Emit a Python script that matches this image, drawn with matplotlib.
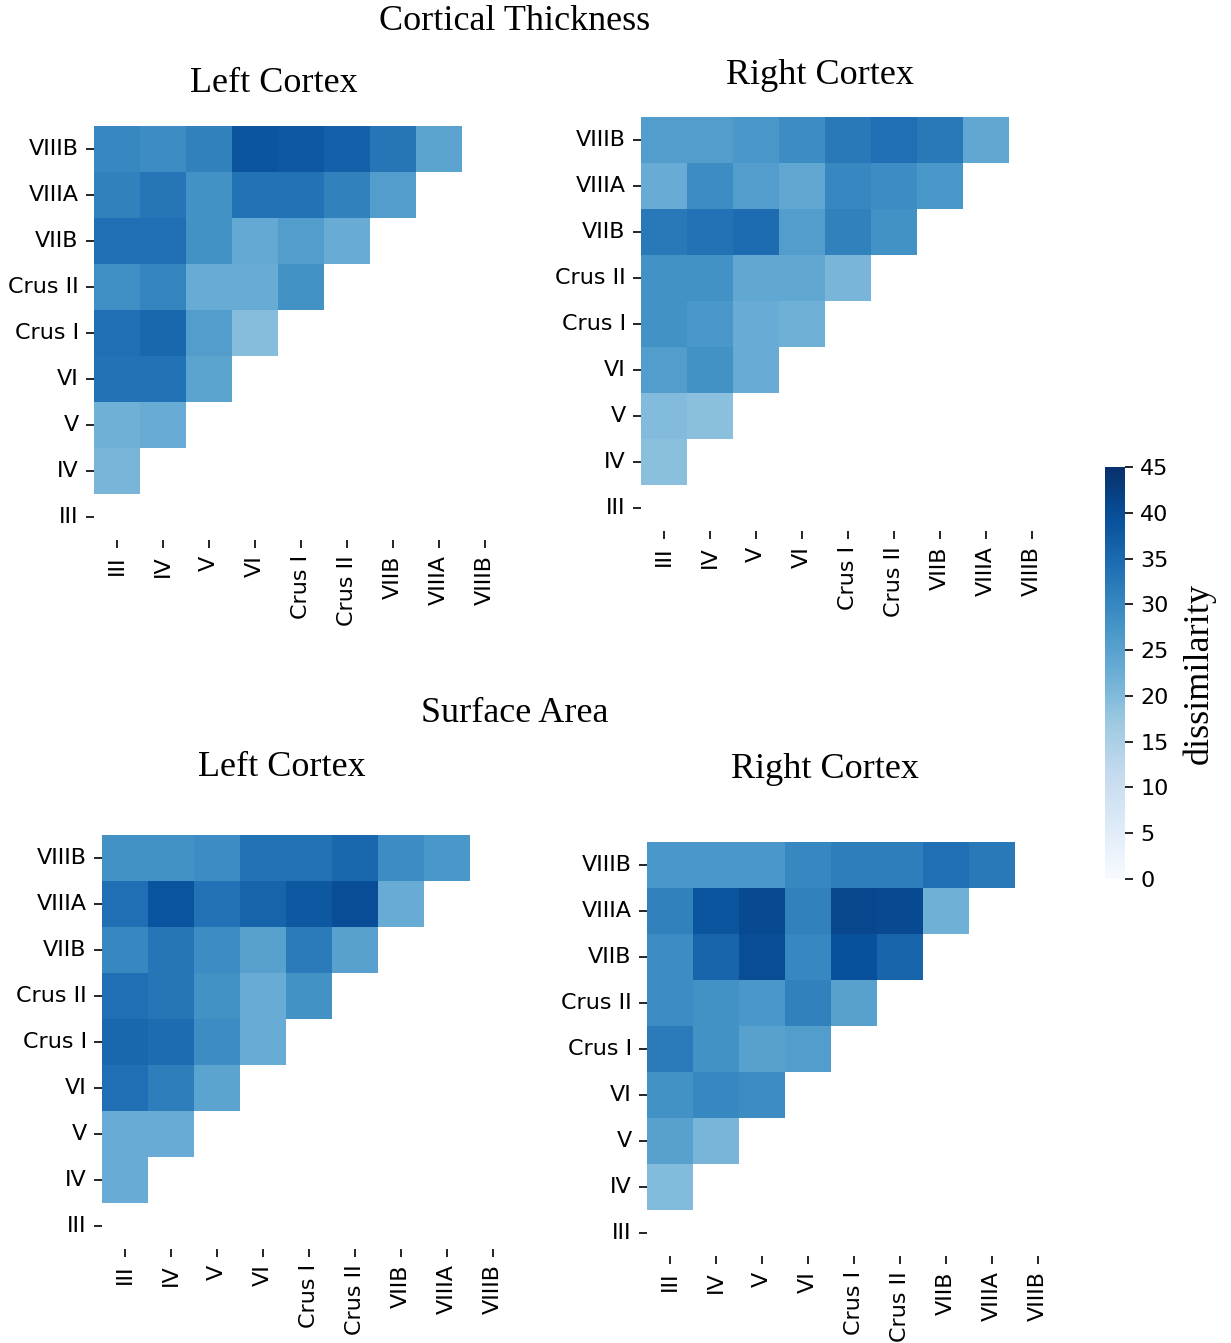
import numpy as np
import matplotlib
matplotlib.use("Agg")
import matplotlib.pyplot as plt
import seaborn as sns

# region labels, bottom-to-top on y / left-to-right on x
regions = ["III", "IV", "V", "VI", "Crus I", "Crus II", "VIIB", "VIIIA", "VIIIB"]

# lower-triangle values, one list per row from IV up to VIIIB
# (each row holds values for the columns III .. the region below it)
ct_left = [
    [21],
    [22, 23],
    [33.5, 33.5, 24.5],
    [34, 35.5, 26, 19.5],
    [28.5, 30.5, 23, 23, 28],
    [34, 34, 28, 23.5, 26, 23],
    [31, 33, 28, 33.5, 33.5, 31, 26],
    [30, 29, 31, 38.5, 38, 36.5, 33, 24.5],
]
ct_right = [
    [19],
    [20, 19],
    [26, 28, 23],
    [28, 27, 23, 22],
    [28, 28, 24, 24, 21],
    [32.5, 33.5, 34.5, 26, 31, 28],
    [23, 29, 26, 24, 30, 29, 27],
    [26, 26, 27, 29, 32.5, 34, 32.5, 24],
]
sa_left = [
    [23],
    [23, 23],
    [34, 31.5, 24.5],
    [35.5, 34.5, 29, 23],
    [34, 33, 28, 23, 28],
    [30, 33, 29, 25, 32, 25],
    [34, 39, 33.5, 36, 38, 40, 23],
    [28, 28, 29, 33.5, 33.5, 35.5, 29, 27],
]
sa_right = [
    [20],
    [25, 21],
    [28, 30, 29],
    [32, 28, 25, 26],
    [29, 28, 27, 31, 25],
    [29, 36, 40, 30, 39.5, 36],
    [31, 38.5, 40.5, 31, 41, 40.5, 22],
    [27, 27, 27, 30, 31.5, 31.5, 34, 32.5],
]

vmin, vmax = 0, 45
serif = ["Liberation Serif", "DejaVu Serif"]


def to_matrix(rows):
    m = np.full((len(regions), len(regions)), np.nan)
    for i, row in enumerate(rows, start=1):
        m[i, :i] = row
    return m


W, H = 1231, 1343
fig = plt.figure(figsize=(W / 100, H / 100), dpi=100)


def px_axes(x0, y_top, size=414):
    return fig.add_axes([x0 / W, (H - y_top - size) / H, size / W, size / H])


panels = [
    (ct_left, 94, 126, "Left Cortex", 274, 83),
    (ct_right, 641, 117, "Right Cortex", 820, 75),
    (sa_left, 102, 835, "Left Cortex", 282, 767),
    (sa_right, 647, 842, "Right Cortex", 825, 770),
]

for rows, x0, yt, title, tx, ty in panels:
    ax = px_axes(x0, yt)
    sns.heatmap(to_matrix(rows), ax=ax, cmap="Blues", vmin=vmin, vmax=vmax,
                cbar=False, square=False, xticklabels=regions, yticklabels=regions)
    ax.invert_yaxis()
    ax.tick_params(axis="both", labelsize=16, length=6, width=1.2, pad=5)
    plt.setp(ax.get_xticklabels(), rotation=90)
    plt.setp(ax.get_yticklabels(), rotation=0)
    fig.text(tx / W, 1 - ty / H, title, ha="center", va="center",
             fontsize=26, family=serif)

fig.text(515 / W, 1 - 21 / H, "Cortical Thickness", ha="center", va="center",
         fontsize=26, family=serif)
fig.text(515 / W, 1 - 714 / H, "Surface Area", ha="center", va="center",
         fontsize=26, family=serif)

# colorbar
cax = fig.add_axes([1105 / W, (H - 879) / H, 20 / W, 412 / H])
sm = plt.cm.ScalarMappable(cmap="Blues", norm=plt.Normalize(vmin, vmax))
cb = fig.colorbar(sm, cax=cax, ticks=np.arange(0, 50, 5))
cb.outline.set_visible(False)
cax.tick_params(labelsize=16, length=6, width=1.2, pad=5)
cb.set_label("dissimilarity", fontsize=26, family=serif, labelpad=10)

fig.savefig("out.png", dpi=100)
